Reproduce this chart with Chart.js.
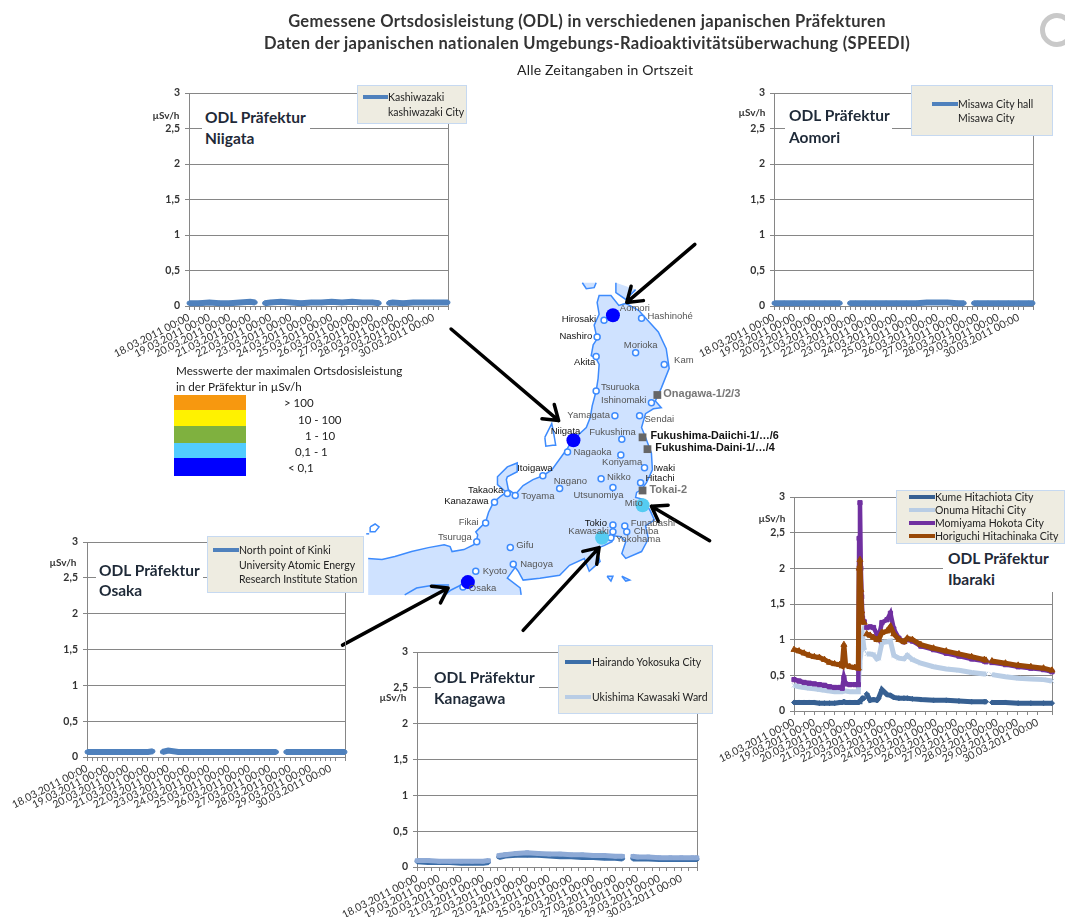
<!DOCTYPE html>
<html lang="de">
<head>
<meta charset="utf-8">
<title>Ortsdosisleistung Japan</title>
<script src="https://cdn.jsdelivr.net/npm/chart.js@4/dist/chart.umd.min.js"></script>
<style>
  html, body { margin: 0; padding: 0; background: #fff; }
  body { position: relative; width: 1065px; height: 917px; overflow: hidden; font-family: Lato, sans-serif; color: #222; filter: blur(0.35px); }
  canvas { position: absolute; }
  .txt { position: absolute; white-space: nowrap; transform: translateY(-50%); z-index: 3; }
  .head { left: 0; width: 1174px; text-align: center; font-weight: 700; font-size: 16.5px; letter-spacing: 0.33px; color: #333; }
  .odl { font-weight: 700; font-size: 15.5px; color: #1f2a38; }
  .unit { font-weight: 700; font-size: 10px; color: #333; transform: translate(-50%, -50%); }
  .mask { position: absolute; background: #fff; z-index: 2; }
  .legend { position: absolute; background: #eeece1; border: 1px solid #c6d9f1; box-sizing: border-box; z-index: 2; }
  .swatch { position: absolute; left: 174px; width: 72px; z-index: 2; }
  .spinner { position: absolute; left: 1040px; top: 13px; width: 34px; height: 34px; box-sizing: border-box; border: 5px solid #c9c9c9; border-radius: 50%; }
</style>
</head>
<body>
<div class="txt head" style="top:21px">Gemessene Ortsdosisleistung (ODL) in verschiedenen japanischen Präfekturen</div>
<div class="txt head" style="top:43px">Daten der japanischen nationalen Umgebungs-Radioaktivitätsüberwachung (SPEEDI)</div>
<div class="txt" style="top:69px;left:517px;font-size:14px;letter-spacing:0.2px">Alle Zeitangaben in Ortszeit</div>
<div class="spinner"></div>
<canvas id="mapChart" width="1065" height="917" style="left:0;top:0;width:1065px;height:917px;z-index:0"></canvas>

<script>
// time axis, hours since 18.03.2011 00:00
const dayLabels = ['18.03.2011 00:00', '19.03.2011 00:00', '20.03.2011 00:00', '21.03.2011 00:00', '22.03.2011 00:00',
  '23.03.2011 00:00', '24.03.2011 00:00', '25.03.2011 00:00', '26.03.2011 00:00', '27.03.2011 00:00',
  '28.03.2011 00:00', '29.03.2011 00:00', '30.03.2011 00:00'];
const yTickLabels = ['0', '0,5', '1', '1,5', '2', '2,5', '3'];

const flatHours = [0, 12, 24, 36, 48, 60, 72, 78, 84, 89, 96, 108, 120, 132, 144, 156, 168, 180, 192, 204, 216, 224, 230, 235, 240, 252, 264, 276, 288, 300, 305];
const niigataValues = [.04, .04, .05, .04, .04, .05, .06, .05, null, .04, .05, .06, .05, .04, .05, .05, .06, .05, .06, .05, .05, .04, null, .04, .05, .04, .05, .05, .05, .05, .05];
const aomoriValues = [.04, .04, .04, .04, .04, .04, .04, .04, null, .04, .04, .04, .04, .04, .04, .04, .04, .05, .05, .05, .04, .04, null, .04, .04, .04, .04, .04, .04, .04, .04];
const osakaValues = [.07, .07, .07, .07, .07, .07, .07, .08, null, .07, .09, .07, .07, .07, .07, .07, .07, .07, .07, .07, .07, .07, null, .07, .07, .07, .07, .07, .07, .07, .07];
const hairandoValues = [.08, .07, .07, .07, .06, .06, .06, .07, null, .14, .16, .17, .17, .17, .16, .15, .15, .14, .14, .13, .13, .12, null, .12, .12, .12, .11, .11, .11, .11, .11];
const ukishimaValues = [.09, .09, .08, .08, .08, .08, .08, .09, null, .16, .17, .19, .20, .19, .18, .18, .17, .17, .16, .16, .15, .15, null, .15, .14, .14, .13, .13, .13, .13, .13];

const ibarakiHours = [0, 6, 12, 18, 24, 30, 36, 42, 48, 54, 57, 59, 61, 66, 72, 76, 77, 78, 79, 80, 81, 83, 84, 86, 90, 94, 98, 100, 104, 110, 114, 118, 124, 130, 134, 140, 150, 165, 180, 195, 210, 225, 227, 230, 234, 250, 265, 280, 295, 305];
const kumeValues = [.12, .12, .12, .12, .12, .11, .11, .11, .11, .12, .12, .13, .12, .12, .12, .12, .13, .14, .15, .16, .18, .18, null, .24, .15, .16, .15, .18, .30, .23, .22, .19, .18, .18, .18, .17, .16, .15, .15, .14, .13, .13, .13, null, .12, .12, .11, .11, .11, .11];
const onumaValues = [.36, .34, .33, .32, .31, .30, .29, .28, .27, .27, .27, .28, .28, .27, .27, .27, .6, .7, .8, 1.0, 1.05, .85, null, .8, .8, .79, .73, .74, .96, .97, .98, .78, .74, .73, .78, .72, .67, .62, .59, .57, .54, .52, .52, null, .51, .48, .46, .45, .44, .42];
const momiyamaValues = [.44, .42, .40, .39, .38, .37, .36, .34, .33, .33, .32, .47, .38, .37, .37, .37, 2.42, 2.92, 2.0, 1.6, 1.3, 1.25, null, 1.17, 1.18, 1.17, 1.08, 1.03, 1.24, 1.28, 1.37, 1.15, 1.02, .97, 1.0, .98, .91, .86, .81, .77, .73, .70, .69, null, .68, .65, .62, .60, .58, .55];
const horiguchiValues = [.86, .84, .81, .78, .76, .75, .72, .68, .66, .65, .63, .93, .65, .62, .61, .60, 2.0, 2.12, 1.7, 1.4, 1.25, 1.24, null, 1.08, 1.06, 1.03, 1.0, 1.0, 1.1, 1.12, 1.18, 1.08, 1.0, .97, 1.02, 1.0, .93, .88, .84, .80, .76, .72, .71, null, .70, .67, .64, .62, .60, .57];

// map of Honshu, in picture coordinates
const honshuOutline = [[366,597],[366,560],[380,561],[393,558],[410,553],[427,549],[443,546],[449,548],[451,553],[463,551],[475,545],[477,536],[475,533],[485,523],[488,513],[493,503],[500,497],[506,493],[497,485],[497,477],[507,467],[517,463],[517,472],[507,477],[506,480],[508,490],[515,495],[523,486],[533,480],[543,476],[552,470],[563,455],[568,448],[573,440],[587,427],[591,417],[593,405],[597,390],[599,377],[600,363],[597,357],[592,354],[594,343],[598,337],[595,323],[600,312],[598,300],[600,293],[612,293],[620,303],[627,301],[640,308],[660,330],[668,347],[671,367],[663,387],[657,400],[663,407],[655,408],[647,413],[643,427],[647,437],[653,453],[654,470],[648,483],[643,490],[638,493],[637,498],[645,500],[652,512],[656,521],[647,527],[650,540],[643,553],[627,560],[623,555],[627,543],[622,538],[615,537],[613,543],[605,547],[597,550],[601,563],[590,573],[585,560],[570,567],[560,577],[540,580],[523,582],[518,573],[515,569],[507,580],[520,590],[521,597]];
const islands = [
  [[545,437],[552,423],[554,433],[556,445],[553,445],[546,446],[545,437]],
  [[583,280],[587,286],[595,285],[597,280]],
  [[617,280],[617,290],[627,297],[637,287]],
  [[368,528],[373,525],[377,528],[373,533],[368,533],[368,528]],
  [[608,578],[614,578],[612,583],[608,578]],
  [[623,578],[631,582],[627,583],[623,578]]
];
const coastLines = [
  [[403,597],[415,590],[433,587],[448,587]],
  [[445,596],[450,592],[460,587],[468,588]],
  [[364,535],[367,535]]
];
const cityPoints = [[605,318],[643,316],[598,335],[637,351],[597,355],[666,363],[597,390],[653,402],[616,415],[641,415],[623,439],[568,452],[622,455],[543,476],[560,489],[602,479],[646,468],[642,483],[614,488],[507,494],[515,496],[494,503],[485,524],[476,543],[510,549],[513,566],[475,573],[462,589],[614,526],[626,527],[614,533],[628,533],[612,539]];
const cityLabels = [
  ['Aomori', 621, 306, 'left'], ['Hirosaki', 597, 317, 'right'], ['Hashinohé', 649, 314, 'left'], ['Nashiro', 593, 334, 'right'],
  ['Morioka', 625, 344, 'left'], ['Akita', 596, 361, 'right'], ['Kam', 676, 359, 'left'], ['Tsuruoka', 602, 386, 'left'],
  ['Ishinomaki', 648, 399, 'right'], ['Yamagata', 611, 415, 'right'], ['Sendai', 646, 419, 'left'], ['Niigata', 551, 431, 'left'],
  ['Fukushima', 590, 432, 'left'], ['Nagaoka', 574, 452, 'left'], ['Koriyama', 603, 462, 'left'], ['Itoigawa', 517, 469, 'left'],
  ['Nagano', 554, 482, 'left'], ['Nikko', 608, 478, 'left'], ['Iwaki', 655, 469, 'left'], ['Hitachi', 647, 479, 'left'],
  ['Utsunomiya', 574, 496, 'left'], ['Takaoka', 503, 491, 'right'], ['Toyama', 521, 497, 'left'], ['Kanazawa', 488, 502, 'right'],
  ['Fikai', 478, 523, 'right'], ['Tsuruga', 471, 539, 'right'], ['Gifu', 516, 547, 'left'], ['Nagoya', 520, 566, 'left'],
  ['Kyoto', 482, 573, 'left'], ['Osaka', 468, 590, 'left'], ['Mito', 626, 504, 'left'], ['Tokio', 608, 524, 'right'],
  ['Funabashi', 632, 524, 'left'], ['Kawasaki', 610, 533, 'right'], ['Chiba', 635, 533, 'left'], ['Yokohama', 617, 541, 'left']
];
const plantPoints = [[659,394],[644,437],[649,449],[644,491]];
const plantLabels = [['Onagawa-1/2/3', 665, 393, false], ['Fukushima-Daiichi-1/…/6', 652, 436, true], ['Fukushima-Daini-1/…/4', 657, 448, true], ['Tokai-2', 651, 490, false]];
const lowDots = [[614,313],[574,440],[467,584]];
const midDots = [[644,506],[603,539]];
const arrows = [[[697,241],[628,300]], [[450,327],[559,420]], [[712,542],[653,507]], [[523,633],[600,549]], [[340,648],[447,590]]];

const toXY = pts => pts.map(p => ({ x: p[0], y: p[1] }));

// an arrow is one stroked path: tail, tip, one barb, tip, other barb
function arrowPath(a) {
  const ang = Math.atan2(a[1][1] - a[0][1], a[1][0] - a[0][0]);
  const barb = s => [a[1][0] - 17 * Math.cos(ang + s * 0.6), a[1][1] - 17 * Math.sin(ang + s * 0.6)];
  return toXY([a[0], a[1], barb(1), a[1], barb(-1)]);
}

const mapLabelsPlugin = {
  id: 'mapLabels',
  afterDatasetsDraw(chart) {
    const c = chart.ctx, sx = chart.scales.x, sy = chart.scales.y;
    c.save();
    c.textBaseline = 'middle';
    c.font = '9.5px "Liberation Sans"';
    cityLabels.forEach(l => {
      c.textAlign = l[3];
      c.fillStyle = ['Niigata', 'Takaoka', 'Kanazawa', 'Tokio', 'Akita', 'Hirosaki', 'Nashiro', 'Iwaki', 'Hitachi', 'Itoigawa'].includes(l[0]) ? '#111' : '#555';
      c.fillText(l[0], sx.getPixelForValue(l[1]), sy.getPixelForValue(l[2]));
    });
    c.textAlign = 'left';
    plantLabels.forEach(l => {
      c.font = (l[3] ? 'bold 10.8px' : 'bold 11px') + ' "Liberation Sans"';
      c.fillStyle = l[3] ? '#111' : '#777';
      c.fillText(l[0], sx.getPixelForValue(l[1]), sy.getPixelForValue(l[2]));
    });
    c.restore();
  }
};

const blueLine = '#3d8bfd', landFill = '#cfe2ff';
const mapDatasets = [];
mapDatasets.push({ data: toXY(honshuOutline), showLine: true, fill: 'shape', backgroundColor: landFill, borderWidth: 0, pointRadius: 0 });
mapDatasets.push({ data: toXY(honshuOutline.slice(1)), showLine: true, borderColor: blueLine, borderWidth: 1.5, pointRadius: 0 });
islands.forEach(p => mapDatasets.push({ data: toXY(p), showLine: true, fill: 'shape', backgroundColor: p.length > 4 ? '#fff' : landFill, borderColor: blueLine, borderWidth: 1.5, pointRadius: 0 }));
coastLines.forEach(p => mapDatasets.push({ data: toXY(p), showLine: true, borderColor: blueLine, borderWidth: 1.5, pointRadius: 0 }));
mapDatasets.push({ data: toXY(cityPoints), pointRadius: 3, pointBackgroundColor: '#fff', pointBorderColor: blueLine, pointBorderWidth: 1.5 });
mapDatasets.push({ data: toXY(plantPoints), pointStyle: 'rect', pointRadius: 5.5, pointBackgroundColor: '#666', pointBorderWidth: 0 });
mapDatasets.push({ data: toXY(lowDots), pointRadius: 7, pointBackgroundColor: '#0000ff', pointBorderWidth: 0 });
mapDatasets.push({ data: toXY(midDots), pointRadius: 7, pointBackgroundColor: '#55ccf2', pointBorderWidth: 0 });
arrows.forEach(a => mapDatasets.push({ data: arrowPath(a), showLine: true, borderColor: '#000', borderWidth: 3.5, pointRadius: 0, borderCapStyle: 'round', borderJoinStyle: 'round' }));

new Chart(document.getElementById('mapChart'), {
  type: 'scatter',
  data: { datasets: mapDatasets.map((d, i) => Object.assign({ order: mapDatasets.length - i, clip: false }, d)) },
  options: {
    responsive: false, animation: false, devicePixelRatio: 1,
    plugins: { legend: { display: false }, tooltip: { enabled: false } },
    scales: {
      x: { type: 'linear', display: false, min: 0, max: 1065 },
      y: { type: 'linear', display: false, min: 0, max: 917, reverse: true }
    }
  },
  plugins: [mapLabelsPlugin]
});

const rightEdge = {
  id: 'rightEdge',
  beforeDatasetsDraw(chart) {
    const a = chart.chartArea, c = chart.ctx;
    c.save();
    c.strokeStyle = '#868686';
    c.lineWidth = 1;
    c.beginPath();
    c.moveTo(a.right + 0.5, a.top);
    c.lineTo(a.right + 0.5, a.bottom);
    c.stroke();
    c.restore();
  }
};

const AXIS_W = 100, AXIS_H = 80, PAD = 6;

function drawPlot(box, hours, series, tickHours) {
  const cv = document.createElement('canvas');
  const w = box.right - box.left + AXIS_W + PAD, h = box.bottom - box.top + AXIS_H + PAD;
  cv.width = w;
  cv.height = h;
  cv.style.cssText = 'left:' + (box.left - AXIS_W) + 'px;top:' + (box.top - PAD) + 'px;width:' + w + 'px;height:' + h + 'px;z-index:1';
  document.body.appendChild(cv);
  new Chart(cv, {
    type: 'line',
    data: {
      datasets: series.map((s, i) => ({
        label: s.name,
        data: hours.map((t, k) => ({ x: t, y: s.values[k] })),
        borderColor: s.color,
        backgroundColor: s.color,
        borderWidth: s.width,
        pointStyle: s.mark,
        pointRadius: s.size,
        pointBorderWidth: 1,
        spanGaps: false,
        tension: 0,
        clip: false,
        order: series.length - i
      }))
    },
    options: {
      responsive: false, animation: false, devicePixelRatio: 1,
      layout: { padding: { top: PAD, right: PAD } },
      plugins: { legend: { display: false }, tooltip: { enabled: false } },
      scales: {
        x: {
          type: 'linear', min: 0, max: 305,
          // fixed axis box so that the plot area lands where it does in the picture
          afterFit: s => { s.height = AXIS_H; s.paddingLeft = 0; s.paddingRight = 0; },
          border: { color: '#868686' },
          grid: { drawOnChartArea: false, color: '#868686', tickLength: 4 },
          ticks: {
            stepSize: tickHours, autoSkip: false, minRotation: 27, maxRotation: 27, padding: 1,
            color: '#333', font: { family: 'Lato', size: 10.5 },
            callback: v => (v % 24 === 0 ? dayLabels[v / 24] : '')
          }
        },
        y: {
          min: 0, max: 3,
          afterFit: s => { s.width = AXIS_W; s.paddingTop = 0; s.paddingBottom = 0; },
          border: { color: '#868686' },
          grid: { color: '#868686', tickLength: 4 },
          ticks: {
            stepSize: 0.5, padding: 5, color: '#333',
            font: { family: 'Lato', size: 10.5, weight: 'bold' },
            callback: (v, i) => yTickLabels[i]
          }
        }
      }
    },
    plugins: [rightEdge]
  });
}

const blueSeries = (name, values) => ({ name, values, color: '#4f81bd', width: 6, mark: 'circle', size: 2 });

drawPlot({ left: 189, right: 448, top: 93, bottom: 306 }, flatHours, [blueSeries('Kashiwazaki', niigataValues)], 6);
drawPlot({ left: 774, right: 1033, top: 93, bottom: 306 }, flatHours, [blueSeries('Misawa City hall', aomoriValues)], 6);
drawPlot({ left: 87, right: 345, top: 542, bottom: 757 }, flatHours, [blueSeries('North point of Kinki', osakaValues)], 6);
drawPlot({ left: 417, right: 697, top: 652, bottom: 867 }, flatHours, [
  { name: 'Hairando Yokosuka City', values: hairandoValues, color: '#3c6ea8', width: 6, mark: 'circle', size: 2 },
  { name: 'Ukishima Kawasaki Ward', values: ukishimaValues, color: '#8eaad6', width: 5, mark: 'rect', size: 2.5 }
], 8);
drawPlot({ left: 794, right: 1052, top: 497, bottom: 711 }, ibarakiHours, [
  { name: 'Kume Hitachiota City', values: kumeValues, color: '#376092', width: 5, mark: 'rectRot', size: 2.5 },
  { name: 'Onuma Hitachi City', values: onumaValues, color: '#b9cde5', width: 5, mark: 'crossRot', size: 3 },
  { name: 'Momiyama Hokota City', values: momiyamaValues, color: '#7030a0', width: 4.5, mark: 'rect', size: 3 },
  { name: 'Horiguchi Hitachinaka City', values: horiguchiValues, color: '#984807', width: 5, mark: 'triangle', size: 3.5 }
], 12);

// text boxes and legends sit over the plots
function addText(cls, text, left, top, extra) {
  const d = document.createElement('div');
  d.className = 'txt ' + cls;
  d.textContent = text;
  d.style.left = left + 'px';
  d.style.top = top + 'px';
  if (extra) d.style.cssText += extra;
  document.body.appendChild(d);
}
function addMask(left, top, width, height) {
  const d = document.createElement('div');
  d.className = 'mask';
  d.style.cssText = 'left:' + left + 'px;top:' + top + 'px;width:' + width + 'px;height:' + height + 'px';
  document.body.appendChild(d);
}
function addLegend(left, top, width, height) {
  const d = document.createElement('div');
  d.className = 'legend';
  d.style.cssText = 'left:' + left + 'px;top:' + top + 'px;width:' + width + 'px;height:' + height + 'px';
  document.body.appendChild(d);
}
function addSample(x1, x2, y, color, h) {
  const d = document.createElement('div');
  d.style.cssText = 'position:absolute;z-index:3;left:' + x1 + 'px;top:' + (y - h / 2) + 'px;width:' + (x2 - x1) + 'px;height:' + h + 'px;background:' + color;
  document.body.appendChild(d);
}

// ODL captions
addMask(202, 104, 108, 46); addText('odl', 'ODL Präfektur', 205, 117); addText('odl', 'Niigata', 205, 138);
addMask(785, 104, 107, 46); addText('odl', 'ODL Präfektur', 789, 115); addText('odl', 'Aomori', 789, 137);
addMask(96, 558, 107, 42); addText('odl', 'ODL Präfektur', 99, 570); addText('odl', 'Osaka', 99, 590);
addMask(431, 666, 108, 42); addText('odl', 'ODL Präfektur', 434, 677); addText('odl', 'Kanagawa', 434, 698);
addMask(943, 544, 120, 48); addText('odl', 'ODL Präfektur', 948, 558); addText('odl', 'Ibaraki', 948, 579);

// unit labels
addText('unit', 'µSv/h', 166, 115);
addText('unit', 'µSv/h', 752, 112);
addText('unit', 'µSv/h', 63, 562);
addText('unit', 'µSv/h', 393, 697);
addText('unit', 'µSv/h', 772, 518);

// legends
const LEG = 'font-size:10.5px;color:#222';
addLegend(357, 85, 110, 39); addSample(363, 388, 97, '#4f81bd', 4);
addText('', 'Kashiwazaki', 388, 97, LEG); addText('', 'kashiwazaki City', 388, 112, LEG);
addLegend(911, 85, 142, 51); addSample(932, 958, 104, '#4f81bd', 4);
addText('', 'Misawa City hall', 958, 104, LEG); addText('', 'Misawa City', 958, 118, LEG);
addLegend(207, 536, 157, 57); addSample(213, 239, 550, '#4f81bd', 4);
addText('', 'North point of Kinki', 239, 550, LEG); addText('', 'University Atomic Energy', 239, 564.5, LEG); addText('', 'Research Institute Station', 239, 579, LEG);
addLegend(558, 645, 155, 69); addSample(565, 591, 662, '#3c6ea8', 4); addSample(565, 591, 697, '#b9cde5', 4);
addText('', 'Hairando Yokosuka City', 592, 662, LEG); addText('', 'Ukishima Kawasaki Ward', 592, 697, LEG);
addLegend(896, 490, 169, 54);
addSample(909, 935, 497, '#376092', 4); addSample(909, 935, 510, '#b9cde5', 4); addSample(909, 935, 523, '#7030a0', 4); addSample(909, 935, 536, '#984807', 4);
addText('', 'Kume Hitachiota City', 935, 497, LEG); addText('', 'Onuma Hitachi City', 935, 510, LEG);
addText('', 'Momiyama Hokota City', 935, 523, LEG); addText('', 'Horiguchi Hitachinaka City', 935, 536, LEG);

// colour key
const keyColors = ['#f7980f', '#fff200', '#7fb13f', '#52ccff', '#0000ff'];
const keyTops = [395, 410, 426, 443, 458];
const keyHeights = [15, 16, 17, 15, 18];
const keyTexts = ['> 100', '10 - 100', '1 - 10', '0,1 - 1', '< 0,1'];
const keyTextX = [284, 298, 305, 295, 288];
const keyTextY = [402, 419, 435, 451, 467];
keyColors.forEach((col, i) => {
  const d = document.createElement('div');
  d.className = 'swatch';
  d.style.cssText = 'top:' + keyTops[i] + 'px;height:' + keyHeights[i] + 'px;background:' + col;
  document.body.appendChild(d);
  addText('', keyTexts[i], keyTextX[i], keyTextY[i], 'font-size:11.5px');
});
addText('', 'Messwerte der maximalen Ortsdosisleistung', 176, 370, 'font-size:11.7px');
addText('', 'in der Präfektur in µSv/h', 176, 386, 'font-size:11.7px');
</script>
</body>
</html>
